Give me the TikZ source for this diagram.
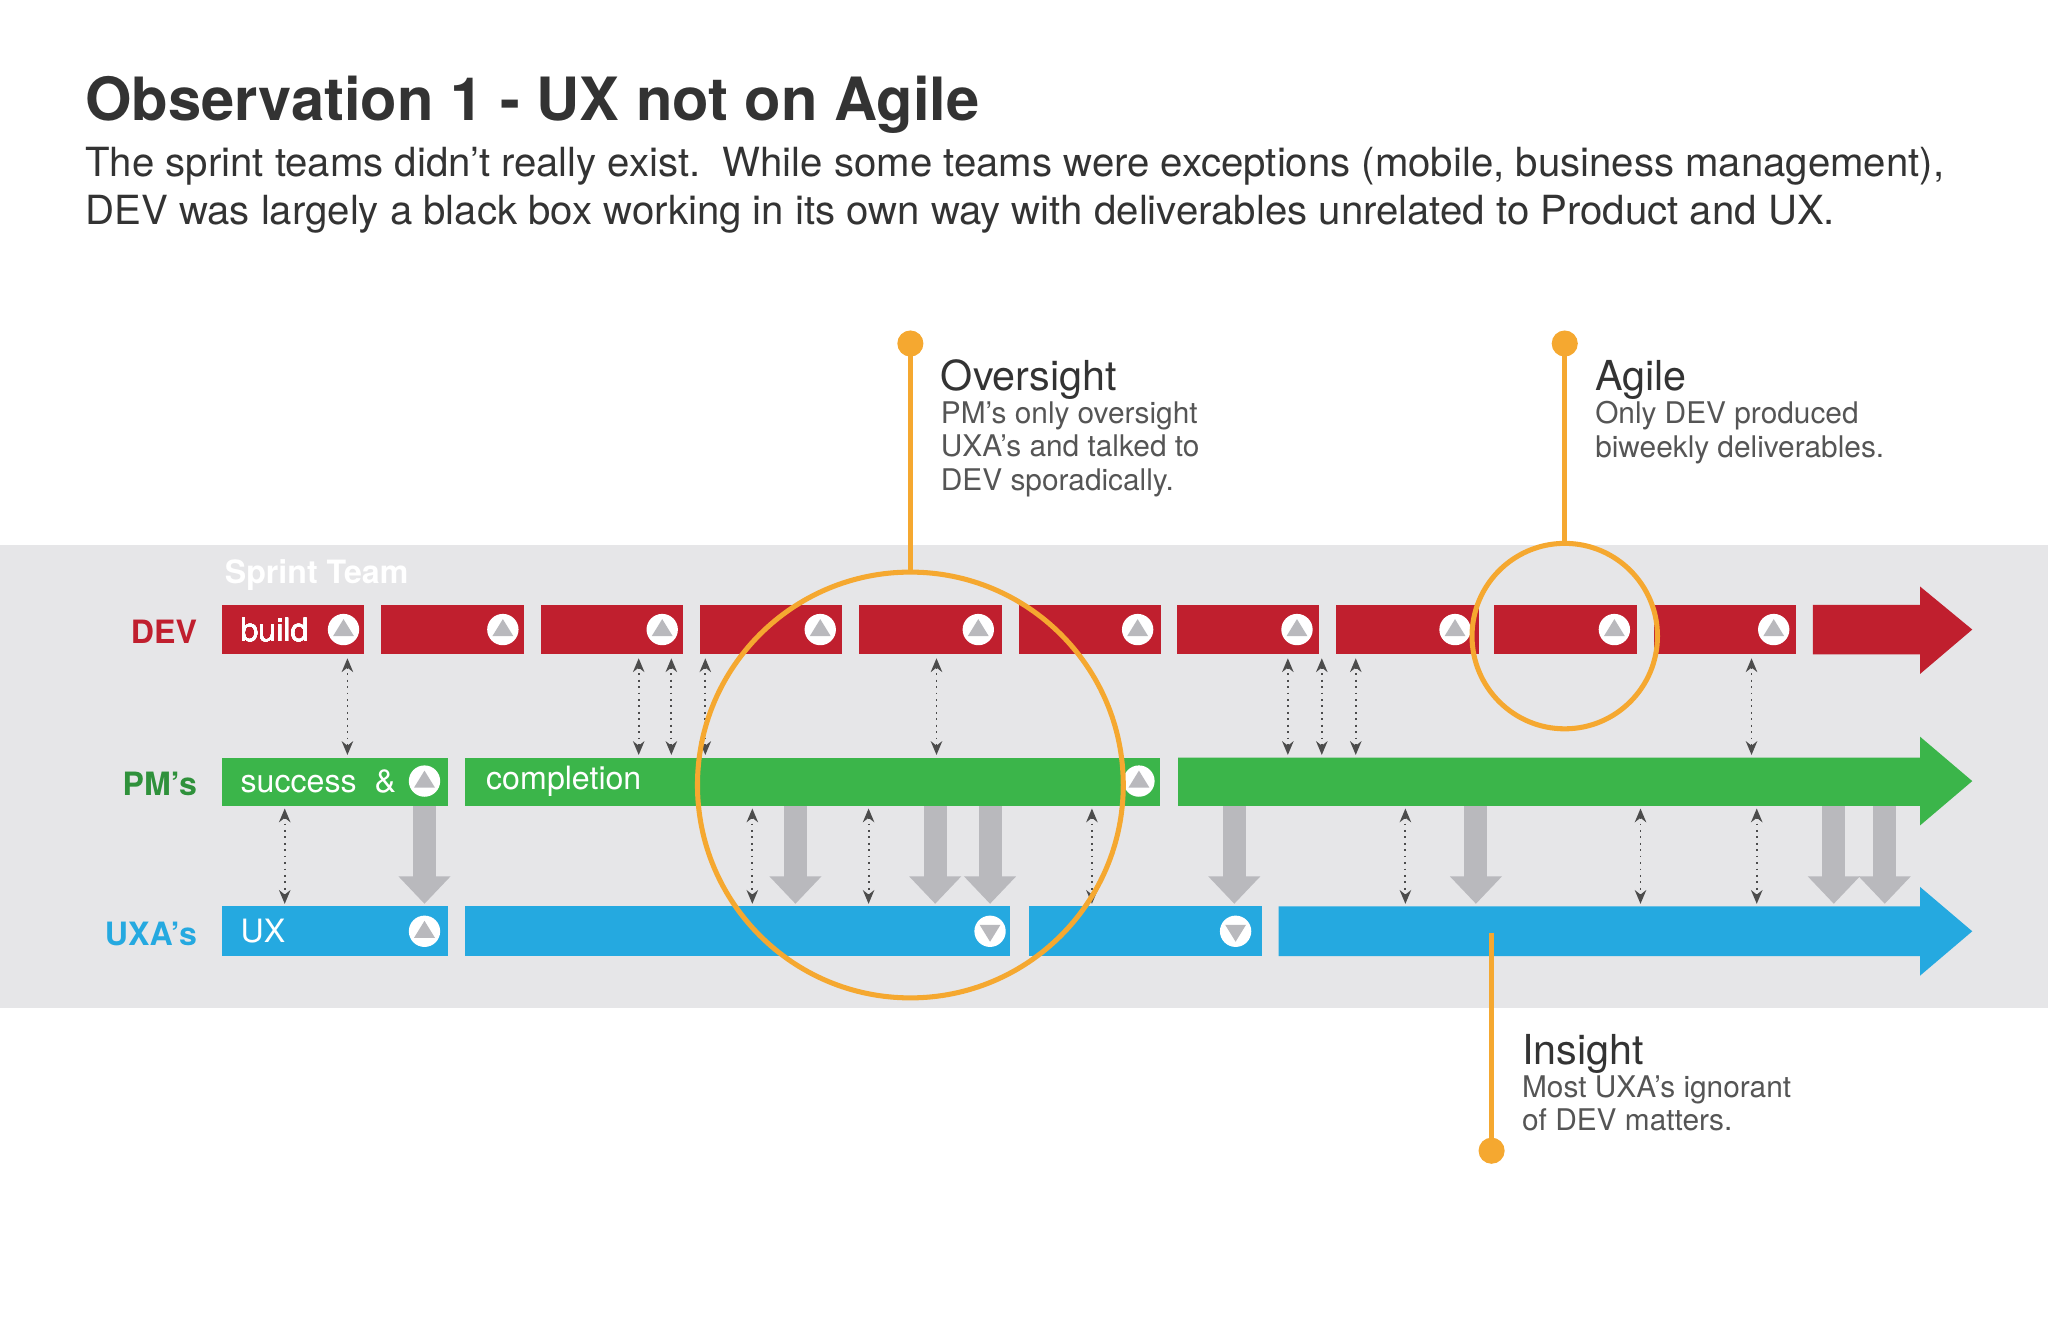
\documentclass[tikz,border=0pt]{standalone}
\usepackage{fontspec}
\setmainfont{TeX Gyre Heros}
\usepackage{xcolor}
\usepackage{tikz}
\usetikzlibrary{arrows.meta,calc}
\usetikzlibrary{positioning,shapes}

\definecolor{devred}{HTML}{C01F2E}
\definecolor{pmgreen}{HTML}{3BB54A}
\definecolor{uxblue}{HTML}{25A9E0}
\definecolor{bandgray}{HTML}{E6E6E8}
\definecolor{flowgray}{HTML}{B9B9BD}
\definecolor{ringorange}{HTML}{F5A830}
\definecolor{textgray}{HTML}{555555}

\tikzset{
    bartext/.style={text=white, anchor=west, font=\fontsize{14}{16}\selectfont},
    rowlabel/.style={anchor=east, font=\bfseries\fontsize{14}{16}\selectfont},
    calltitle/.style={anchor=base west, text=black!80, font=\fontsize{18}{20}\selectfont},
    callbody/.style={anchor=north west, align=left, text=textgray, font=\fontsize{13}{14.6}\selectfont},
    handoff/.style={dotted, thick, black!70, {Stealth[length=6pt,width=5pt]}-{Stealth[length=6pt,width=5pt]}},
    pushdown/.style={flowgray, line width=10pt, -{Triangle[length=12pt,width=22pt]}},
    ring/.style={ringorange, line width=2.2pt}
}

\newcommand{\upmark}[2]{%
    \fill[white] (#1,#2) circle (12);
    \fill[flowgray] ($(#1,#2)+(0,-8)$) -- ($(#1,#2)+(-8,5)$) -- ($(#1,#2)+(8,5)$) -- cycle;}
\newcommand{\downmark}[2]{%
    \fill[white] (#1,#2) circle (12);
    \fill[flowgray] ($(#1,#2)+(0,8)$) -- ($(#1,#2)+(-8,-5)$) -- ($(#1,#2)+(8,-5)$) -- cycle;}

\begin{document}
\begin{tikzpicture}[x=0.02cm, y=-0.02cm]
    \useasboundingbox (0,0) rectangle (1568,1015);

    % Title
    \node[anchor=base west, inner sep=0pt, text=black!80, font=\bfseries\fontsize{26}{30}\selectfont] (title) at (65,92) {Observation 1 - UX not on Agile};
    \node[anchor=north west, inner sep=0pt, align=left, text=black!80, font=\fontsize{17.5}{21}\selectfont] (intro) at (65,112)
        {The sprint teams didn’t really exist.\ \ While some teams were exceptions (mobile, business management),\\
         DEV was largely a black box working in its own way with deliverables unrelated to Product and UX.};

    % Band
    \fill[bandgray] (0,417) rectangle (1568,772);
    \node[anchor=west, text=white, font=\bfseries\fontsize{14}{16}\selectfont] (sprint) at (166,440) {Sprint Team};

    % DEV row
    \foreach \x in {170,292,414,536,658,780,901,1023,1144,1266}
        \fill[devred] (\x,463) rectangle ++(109,38);
    \fill[devred] (1388,463) -- (1470,463) -- (1470,449) -- (1510,482) -- (1470,516) -- (1470,501) -- (1388,501) -- cycle;
    \foreach \x in {263,385,507,628,749,871,993,1114,1236,1358}
        \upmark{\x}{482}
    \node[bartext] (build) at (178,482) {build};
    \node[rowlabel, text=devred] (dev) at (157,484) {DEV};

    % PM row
    \fill[pmgreen] (170,580) rectangle (343,617);
    \fill[pmgreen] (356,580) rectangle (888,617);
    \fill[pmgreen] (902,580) -- (1470,580) -- (1470,564) -- (1510,598) -- (1470,632) -- (1470,617) -- (902,617) -- cycle;
    \upmark{325}{598}
    \upmark{872}{598}
    \node[bartext] (success) at (178,598) {success\ \ \&};
    \node[bartext] (completion) at (366,598) {completion};
    \node[rowlabel, text=pmgreen!80!black] (pm) at (157,600) {PM’s};

    % UXA row
    \fill[uxblue] (170,694) rectangle (343,732);
    \fill[uxblue] (356,694) rectangle (773,732);
    \fill[uxblue] (788,694) rectangle (966,732);
    \fill[uxblue] (979,694) -- (1470,694) -- (1470,679) -- (1510,713) -- (1470,747) -- (1470,732) -- (979,732) -- cycle;
    \upmark{325}{713}
    \downmark{758}{713}
    \downmark{946}{713}
    \node[bartext] (ux) at (178,713) {UX};
    \node[rowlabel, text=uxblue] (uxa) at (157,715) {UXA’s};

    % Hand-offs
    \foreach \x in {266,489,514,540,717,986,1012,1038,1341}
        \draw[handoff] (\x,504) -- (\x,578);
    \foreach \x in {218,576,665,836,1076,1256,1345}
        \draw[handoff] (\x,619) -- (\x,692);
    \foreach \x in {325,609,716,758,945,1130,1404,1443}
        \draw[pushdown] (\x,617) -- (\x,692);

    % Callouts
    \draw[ring] (697,601) circle (163);
    \draw[ring] (1198,487) circle (71);
    \draw[ring] (697,263) -- (697,438);
    \fill[ringorange] (697,263) circle (10);
    \draw[ring] (1198,263) -- (1198,416);
    \fill[ringorange] (1198,263) circle (10);
    \draw[ring] (1142,714) -- (1142,881);
    \fill[ringorange] (1142,881) circle (10);

    \node[calltitle, inner sep=0pt] (oversight) at (720,299) {Oversight};
    \node[callbody, inner sep=0pt] (oversighttext) at (720,307) {PM’s only oversight\\UXA’s and talked to\\DEV sporadically.};
    \node[calltitle, inner sep=0pt] (agile) at (1221,299) {Agile};
    \node[callbody, inner sep=0pt] (agiletext) at (1221,307) {Only DEV produced\\biweekly deliverables.};
    \node[calltitle, inner sep=0pt] (insight) at (1165,815) {Insight};
    \node[callbody, inner sep=0pt] (insighttext) at (1165,823) {Most UXA’s ignorant\\of DEV matters.};
\end{tikzpicture}
\end{document}
